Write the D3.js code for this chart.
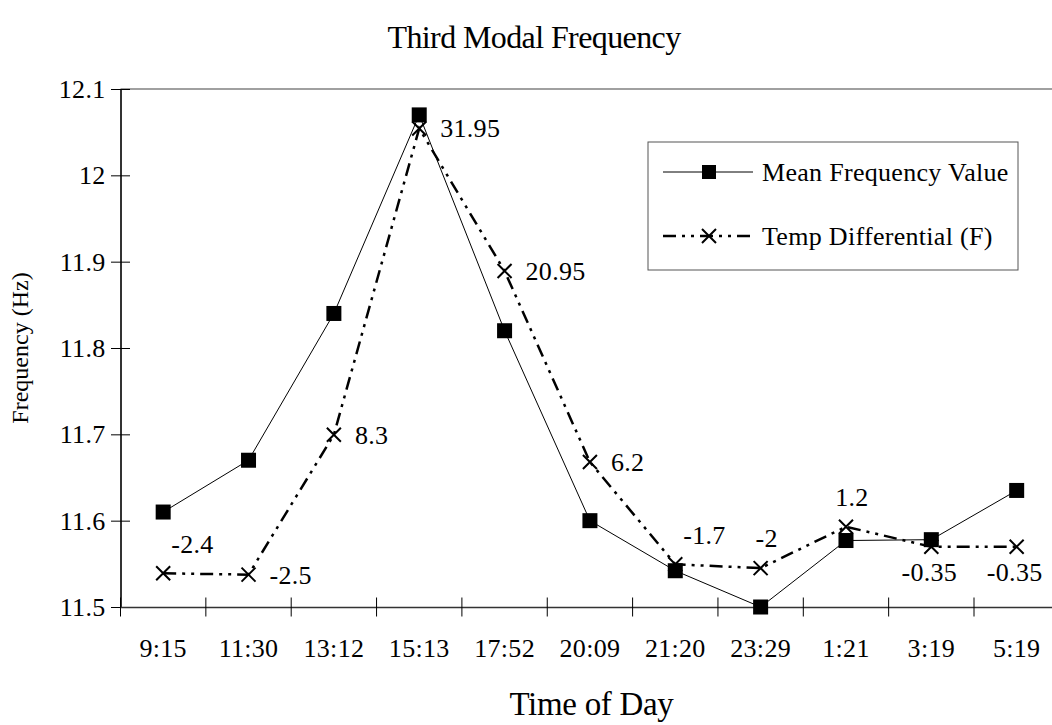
<!DOCTYPE html>
<html>
<head>
<meta charset="utf-8">
<script src="https://cdn.jsdelivr.net/npm/d3@7"></script>
<style>
  body { margin: 0; background: #fff; }
  text { font-family: "Liberation Serif", "Times New Roman", serif; fill: #000; }
</style>
</head>
<body>
<div class="canvas"></div>
<script>
// data
const times = ['9:15', '11:30', '13:12', '15:13', '17:52', '20:09', '21:20', '23:29', '1:21', '3:19', '5:19'];
const meanFreq = [11.61, 11.67, 11.84, 12.07, 11.82, 11.60, 11.542, 11.50, 11.577, 11.578, 11.635];
const tempDiff = [-2.4, -2.5, 8.3, 31.95, 20.95, 6.2, -1.7, -2, 1.2, -0.35, -0.35];
const freqTicks = [11.5, 11.6, 11.7, 11.8, 11.9, 12.0, 12.1];
// where each temperature label sits around its marker
const labelPlace = ['aboveRight', 'right', 'right', 'right', 'right', 'right', 'aboveRight', 'above', 'above', 'below', 'below'];

const width = 1052;
const height = 725;

const svg = d3.select('.canvas').append('svg')
  .attr('width', width)
  .attr('height', height);

const margin = { top: 89, left: 120.5, bottom: 118 };
const plotRight = margin.left + 85.35 * times.length;   // right edge runs past the window
const plotBottom = height - margin.bottom;

const x = d3.scaleBand()
  .domain(times)
  .range([margin.left, plotRight]);

const y = d3.scaleLinear()
  .domain([11.5, 12.1])
  .range([plotBottom, margin.top]);

// hidden secondary axis for the temperature series
const yTemp = d3.scaleLinear()
  .domain([-5, 35])
  .range([plotBottom, margin.top]);

const cx = d => x(d) + x.bandwidth() / 2;

const labelFont = '26px';
const labelSpacing = '0.3px';

// top border
svg.append('line')
  .attr('x1', margin.left).attr('x2', plotRight)
  .attr('y1', margin.top).attr('y2', margin.top)
  .attr('stroke', '#808080').attr('stroke-width', 1.5);

// axes
const yAxis = d3.axisLeft(y)
  .tickValues(freqTicks)
  .tickSize(0)
  .tickFormat(d3.format('~g'));

const yAxisGroup = svg.append('g')
  .attr('transform', `translate(${margin.left}, 0)`)
  .call(yAxis);
yAxisGroup.select('.domain').attr('stroke', '#333').attr('stroke-width', 2);
yAxisGroup.selectAll('.tick line').remove();
yAxisGroup.selectAll('.tick').append('line')
  .attr('x1', -9.5).attr('x2', 9.5)
  .attr('stroke', '#000').attr('stroke-width', 1);
yAxisGroup.selectAll('.tick text')
  .attr('x', -15)
  .attr('dy', '0.33em')
  .style('font-size', labelFont)
  .style('letter-spacing', labelSpacing)
  .style('font-family', '"Liberation Serif", serif');

const xAxis = d3.axisBottom(x).tickSize(0);
const xAxisGroup = svg.append('g')
  .attr('transform', `translate(0, ${plotBottom})`)
  .call(xAxis);
xAxisGroup.select('.domain').attr('stroke', '#333').attr('stroke-width', 1.5);
xAxisGroup.selectAll('.tick line').remove();
xAxisGroup.selectAll('.tick text')
  .attr('y', 50)
  .attr('dy', 0)
  .style('font-size', labelFont)
  .style('letter-spacing', labelSpacing)
  .style('font-family', '"Liberation Serif", serif');

// boundary ticks crossing the x axis
const xEdges = [x.range()[0]].concat(times.map(t => x(t) + x.bandwidth()));
svg.append('g').selectAll('line')
  .data(xEdges)
  .enter().append('line')
  .attr('x1', d => d).attr('x2', d => d)
  .attr('y1', plotBottom - 9.5).attr('y2', plotBottom + 9.5)
  .attr('stroke', '#000').attr('stroke-width', 1);

// mean frequency line + squares
const meanLine = d3.line()
  .x((d, i) => cx(times[i]))
  .y(d => y(d));

svg.append('path')
  .datum(meanFreq)
  .attr('d', meanLine)
  .attr('fill', 'none')
  .attr('stroke', '#000')
  .attr('stroke-width', 1);

svg.append('g').selectAll('rect')
  .data(meanFreq)
  .enter().append('rect')
  .attr('x', (d, i) => cx(times[i]) - 7.5)
  .attr('y', d => y(d) - 7.5)
  .attr('width', 15)
  .attr('height', 15)
  .attr('fill', '#000');

// temperature differential line + crosses
const tempLine = d3.line()
  .x((d, i) => cx(times[i]))
  .y(d => yTemp(d));

const dashPattern = '13,6,3,6,3,6';

svg.append('path')
  .datum(tempDiff)
  .attr('d', tempLine)
  .attr('fill', 'none')
  .attr('stroke', '#000')
  .attr('stroke-width', 2.5)
  .attr('stroke-dasharray', dashPattern);

const cross = (sel, s) => sel.attr('d', `M${-s},${-s}L${s},${s}M${-s},${s}L${s},${-s}`)
  .attr('fill', 'none').attr('stroke', '#000').attr('stroke-width', 2);

svg.append('g').selectAll('path')
  .data(tempDiff)
  .enter().append('path')
  .attr('transform', (d, i) => `translate(${cx(times[i])}, ${yTemp(d)})`)
  .call(cross, 7);

// temperature labels
const placeOffset = {
  right: { dx: 21, dy: 9, anchor: 'start' },
  aboveRight: { dx: 8, dy: -20, anchor: 'start' },
  above: { dx: 6, dy: -21, anchor: 'middle' },
  below: { dx: -2, dy: 34, anchor: 'middle' }
};

svg.append('g').selectAll('text')
  .data(tempDiff)
  .enter().append('text')
  .attr('x', (d, i) => cx(times[i]) + placeOffset[labelPlace[i]].dx)
  .attr('y', d => yTemp(d))
  .attr('dy', (d, i) => placeOffset[labelPlace[i]].dy)
  .attr('text-anchor', (d, i) => placeOffset[labelPlace[i]].anchor)
  .style('font-size', labelFont)
  .style('letter-spacing', labelSpacing)
  .text(d => d);

// titles
svg.append('text')
  .attr('x', 534).attr('y', 48)
  .attr('text-anchor', 'middle')
  .style('font-size', '32px')
  .style('letter-spacing', '-0.6px')
  .text('Third Modal Frequency');

svg.append('text')
  .attr('x', 591.5).attr('y', 715)
  .attr('text-anchor', 'middle')
  .style('font-size', '33px')
  .style('letter-spacing', '-0.3px')
  .text('Time of Day');

svg.append('text')
  .attr('transform', `translate(28, ${(margin.top + plotBottom) / 2}) rotate(-90)`)
  .attr('text-anchor', 'middle')
  .style('font-size', '24px')
  .text('Frequency (Hz)');

// legend
const legend = svg.append('g').attr('transform', 'translate(648, 142)');
legend.append('rect')
  .attr('width', 370).attr('height', 128)
  .attr('fill', '#fff').attr('stroke', '#555').attr('stroke-width', 1);

const legendItems = ['Mean Frequency Value', 'Temp Differential (F)'];
const item = legend.selectAll('g.item')
  .data(legendItems)
  .enter().append('g')
  .attr('class', 'item')
  .attr('transform', (d, i) => `translate(0, ${30 + i * 64})`);

item.append('line')
  .attr('x1', 15).attr('x2', 105)
  .attr('stroke', '#000')
  .attr('stroke-width', (d, i) => i === 0 ? 1 : 2.5)
  .attr('stroke-dasharray', (d, i) => i === 0 ? null : dashPattern);

item.filter((d, i) => i === 0).append('rect')
  .attr('x', 54).attr('y', -7).attr('width', 14).attr('height', 14)
  .attr('fill', '#000');
item.filter((d, i) => i === 1).append('path')
  .attr('transform', 'translate(61, 0)')
  .call(cross, 7);

item.append('text')
  .attr('x', 114).attr('dy', 9)
  .style('font-size', labelFont)
  .style('letter-spacing', labelSpacing)
  .text(d => d);
</script>
</body>
</html>
